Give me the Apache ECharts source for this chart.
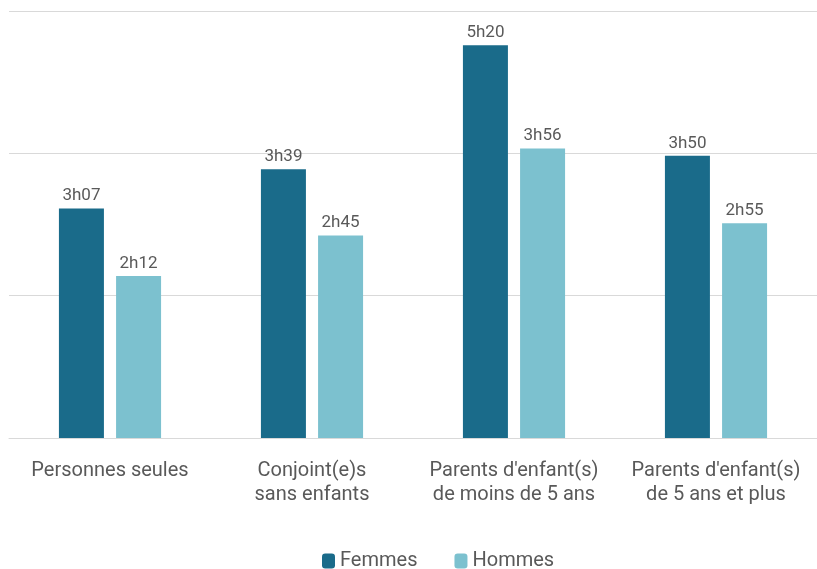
<!DOCTYPE html>
<html>
<head>
<meta charset="utf-8">
<script src="https://cdn.jsdelivr.net/npm/echarts@6/dist/echarts.min.js"></script>
<style>
  html, body { margin: 0; padding: 0; background: #fff; }
  #chart { width: 817px; height: 569px; }
</style>
</head>
<body>
<div id="chart"></div>
<script>
// temps en minutes
const categories = [
  'Personnes seules',
  'Conjoint(e)s\nsans enfants',
  "Parents d'enfant(s)\nde moins de 5 ans",
  "Parents d'enfant(s)\nde 5 ans et plus"
]
const femmes = [187, 219, 320, 230]
const hommes = [132, 165, 236, 175]

const fmt = v => Math.floor(v / 60) + 'h' + String(v % 60).padStart(2, '0')

const chart = echarts.init(document.getElementById('chart'))
const labelStyle = {
  show: true,
  position: 'top',
  distance: 4,
  color: '#595959',
  fontSize: 17,
  fontFamily: 'Roboto',
  formatter: p => fmt(p.value)
}

chart.setOption({
  animation: false,
  grid: { left: 9, right: -4, top: 11, bottom: 131 },
  legend: {
    top: 546,
    left: 317,
    itemWidth: 13,
    itemHeight: 15,
    itemGap: 37,
    textStyle: { color: '#595959', fontSize: 20, fontFamily: 'Roboto' },
    data: ['Femmes', 'Hommes']
  },
  xAxis: {
    type: 'category',
    data: categories,
    axisTick: { show: false },
    axisLine: { lineStyle: { color: '#d9d9d9' } },
    axisLabel: {
      interval: 0,
      color: '#595959',
      fontSize: 20,
      fontFamily: 'Roboto',
      lineHeight: 24,
      margin: 21
    }
  },
  yAxis: {
    type: 'value',
    min: 0,
    max: 348,
    interval: 116,
    axisLabel: { show: false },
    axisLine: { show: false },
    axisTick: { show: false },
    splitLine: { lineStyle: { color: '#d9d9d9' } }
  },
  series: [
    {
      name: 'Femmes',
      type: 'bar',
      data: femmes,
      barWidth: 45,
      barGap: '27%',
      itemStyle: { color: '#1a6b8a' },
      label: labelStyle
    },
    {
      name: 'Hommes',
      type: 'bar',
      data: hommes,
      barWidth: 45,
      itemStyle: { color: '#7cc1cf' },
      label: labelStyle
    }
  ]
})
</script>
</body>
</html>
